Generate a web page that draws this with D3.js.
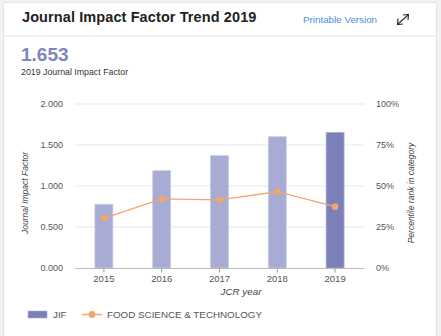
<!DOCTYPE html>
<html><head><meta charset="utf-8">
<script src="https://cdn.jsdelivr.net/npm/d3@7"></script>
<style>
html,body{margin:0;padding:0;background:#f2f2f5;}
svg{display:block;font-family:Arial,"Liberation Sans",sans-serif;}
</style></head><body>
<svg id="c" width="441" height="336"></svg>
<script>
const years = ["2015","2016","2017","2018","2019"];
const jif = [0.777, 1.187, 1.370, 1.601, 1.653];
const percentile = [30.3, 42.1, 41.5, 46.5, 37.4];
const leftTicks = [0, 0.5, 1.0, 1.5, 2.0];
const rightTicks = [0, 25, 50, 75, 100];
const categoryName = "FOOD SCIENCE & TECHNOLOGY";

const svg = d3.select("#c");
// card
svg.append("rect").attr("x",3.5).attr("y",2.5).attr("width",433).attr("height",340)
  .attr("fill","#fff").attr("stroke","#e4e4ea");
svg.append("line").attr("x1",4).attr("x2",436).attr("y1",36).attr("y2",36).attr("stroke","#ececf0").attr("stroke-width",1.5);
svg.append("text").attr("x",22).attr("y",22).attr("font-size",14.5).attr("font-weight","bold").attr("fill","#222")
  .attr("letter-spacing",0.1).text("Journal Impact Factor Trend 2019");
svg.append("text").attr("x",303).attr("y",23).attr("font-size",9.8).attr("fill","#4a8fe0").text("Printable Version");
// expand icon
const ic = svg.append("g").attr("stroke","#333").attr("stroke-width",1.2).attr("fill","none");
ic.append("line").attr("x1",398).attr("y1",24).attr("x2",408).attr("y2",15);
ic.append("path").attr("d","M403,15 L408.5,14.5 L408,20");
ic.append("path").attr("d","M398,18.5 L397.5,24.5 L403,24");
svg.append("text").attr("x",21).attr("y",61).attr("font-size",19).attr("font-weight","bold").attr("fill","#8084bd").text(d3.format(".3f")(jif[jif.length-1]));
svg.append("text").attr("x",21).attr("y",75).attr("font-size",8.8).attr("fill","#333").text("2019 Journal Impact Factor");

const x = d3.scaleBand().domain(years).range([75,364]).paddingInner(0.69).paddingOuter(0.345);
const y = d3.scaleLinear().domain([0,2]).range([268,104]);
const yr = d3.scaleLinear().domain([0,100]).range([268,104]);

// grid
svg.append("g").selectAll("line").data(leftTicks.slice(1)).join("line")
  .attr("x1",75).attr("x2",364).attr("y1",d=>y(d)).attr("y2",d=>y(d)).attr("stroke","#e6e6ef").attr("stroke-width",1);

// bars
svg.append("g").selectAll("rect").data(jif).join("rect")
  .attr("x",(d,i)=>x(years[i])).attr("width",x.bandwidth())
  .attr("y",d=>y(d)).attr("height",d=>y(0)-y(d))
  .attr("fill",(d,i)=>i===jif.length-1?"#7b80b9":"#a8abd3")
  .attr("stroke",(d,i)=>i===jif.length-1?"#a9acd6":"#c8cae6").attr("stroke-width",0.8);

const ff = "Arial,'Liberation Sans',sans-serif";
// left axis
const la = svg.append("g").attr("transform","translate(63,0)")
  .call(d3.axisLeft(y).tickValues(leftTicks).tickFormat(d3.format(".3f")).tickSize(0).tickPadding(0));
la.select(".domain").remove();
la.selectAll("text").attr("font-size",9).attr("fill","#555").attr("font-family",ff);
// right axis
const ra = svg.append("g").attr("transform","translate(376,0)")
  .call(d3.axisRight(yr).tickValues(rightTicks).tickFormat(d=>d+"%").tickSize(0).tickPadding(0));
ra.select(".domain").remove();
ra.selectAll("text").attr("font-size",9).attr("fill","#555").attr("font-family",ff);
// bottom axis
const ba = svg.append("g").attr("transform","translate(0,268.5)")
  .call(d3.axisBottom(x).tickSize(4).tickPadding(3));
ba.select(".domain").attr("d","M75,0H364").attr("stroke","#bbb");
ba.selectAll(".tick line").attr("stroke","#999");
ba.selectAll("text").attr("font-size",9.5).attr("fill","#555").attr("font-family",ff);

// line
const cx = d=>x(d)+x.bandwidth()/2;
svg.append("path").datum(percentile)
  .attr("d",d3.line().x((d,i)=>cx(years[i])).y(d=>yr(d)))
  .attr("fill","none").attr("stroke","#f4a470").attr("stroke-width",1.3);
svg.append("g").selectAll("circle").data(percentile).join("circle")
  .attr("cx",(d,i)=>cx(years[i])).attr("cy",d=>yr(d)).attr("r",3.3).attr("fill","#f4a470");

// axis titles
svg.append("text").attr("transform","translate(28,193) rotate(-90)").attr("text-anchor","middle")
  .attr("font-size",8.5).attr("font-style","italic").attr("fill","#444").text("Journal Impact Factor");
svg.append("text").attr("transform","translate(414,193) rotate(-90)").attr("text-anchor","middle")
  .attr("font-size",8.5).attr("font-style","italic").attr("fill","#444").text("Percentile rank in category");
svg.append("text").attr("x",241).attr("y",294.5).attr("text-anchor","middle")
  .attr("font-size",9.8).attr("font-style","italic").attr("fill","#444").text("JCR year");

// legend
svg.append("rect").attr("x",28).attr("y",311).attr("width",19).attr("height",7).attr("fill","#7b80b9").attr("stroke","#a9acd6").attr("stroke-width",0.6);
svg.append("text").attr("x",53).attr("y",318).attr("font-size",9.8).attr("fill","#555").text("JIF");
svg.append("line").attr("x1",82).attr("x2",102).attr("y1",314.5).attr("y2",314.5).attr("stroke","#f4a470").attr("stroke-width",1.5);
svg.append("circle").attr("cx",92).attr("cy",314.5).attr("r",3.5).attr("fill","#f4a470");
svg.append("text").attr("x",107).attr("y",318).attr("font-size",9.8).attr("fill","#555").text(categoryName);
</script></body></html>
